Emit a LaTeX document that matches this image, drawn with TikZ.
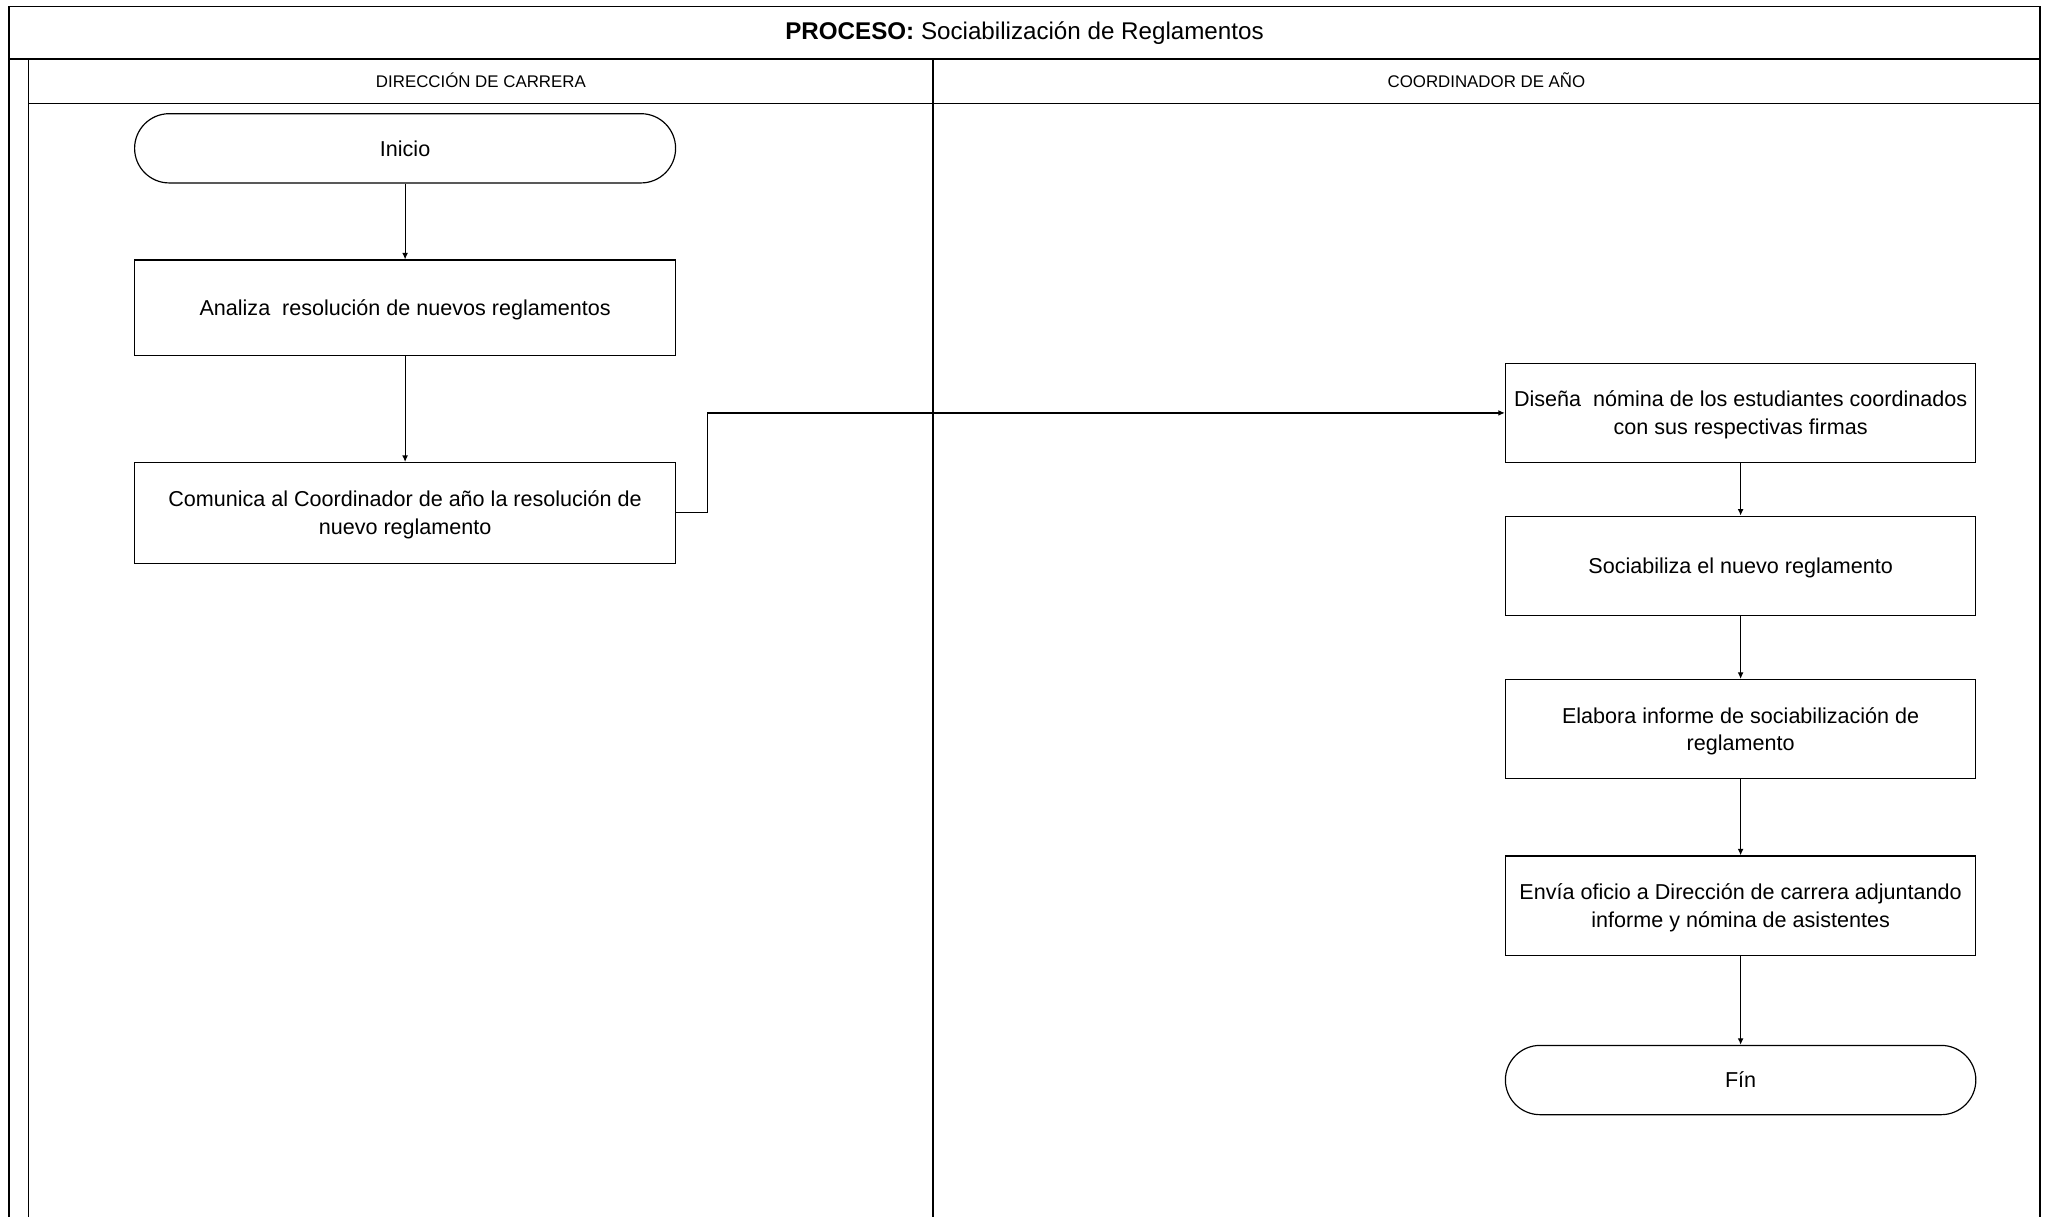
\documentclass[tikz,border=0pt]{standalone}
\usepackage{fontspec}
\setmainfont{Liberation Sans}
\usetikzlibrary{arrows.meta}
\begin{document}
\begin{tikzpicture}[x=1pt,y=-1pt,
  frame/.style={line width=1.1pt,black},
  lbl/.style={font=\fontsize{16.5}{21}\selectfont},
  lanehead/.style={font=\fontsize{12.9}{15}\selectfont},
  oneline/.style={text height=11.8pt,text depth=0pt},
  twolines/.style={text height=32.8pt,text depth=0pt},
  stepbox/.style={draw,line width=0.9pt,rectangle,align=center,lbl,inner sep=0pt},
  terminal/.style={draw,line width=0.9pt,rectangle,rounded corners=26.5pt,align=center,lbl,inner sep=0pt,minimum height=53pt,oneline},
  flow/.style={line width=0.9pt,-{Latex[length=5pt,width=4.5pt]}}]
\useasboundingbox (0,0) rectangle (1568,931);

% pool frame, title row and lanes
\draw[frame] (7,931) -- (7,5) -- (1561,5) -- (1561,931);
\draw[frame] (7,45) -- (1561,45);
\draw[frame] (22,45) -- (22,931);
\draw[frame] (22,79) -- (1561,79);
\draw[frame] (714,45) -- (714,931);

\node[font=\fontsize{18.5}{22}\selectfont] (title) at (784,25) {\textbf{PROCESO:} Sociabilización de Reglamentos};
\node[lanehead] (lane1) at (368,61.5) {DIRECCIÓN DE CARRERA};
\node[lanehead] (lane2) at (1137.5,61.5) {COORDINADOR DE AÑO};

% Dirección de carrera
\node[terminal,minimum width=414pt] (inicio) at (310,113.5) {Inicio};
\node[stepbox,oneline,minimum width=414pt,minimum height=73pt] (analiza) at (310,235.5) {Analiza\ \ resolución de nuevos reglamentos};
\node[stepbox,twolines,minimum width=414pt,minimum height=77pt] (comunica) at (310,392.5) {Comunica al Coordinador de año la resolución de\\nuevo reglamento};

% Coordinador de año
\node[stepbox,twolines,minimum width=360pt,minimum height=76pt] (disena) at (1332,316) {Diseña\ \ nómina de los estudiantes coordinados\\con sus respectivas firmas};
\node[stepbox,oneline,minimum width=360pt,minimum height=76pt] (socia) at (1332,433) {Sociabiliza el nuevo reglamento};
\node[stepbox,twolines,minimum width=360pt,minimum height=76pt] (elabora) at (1332,558) {Elabora informe de sociabilización de\\reglamento};
\node[stepbox,twolines,minimum width=360pt,minimum height=76pt] (envia) at (1332,693) {Envía oficio a Dirección de carrera adjuntando\\informe y nómina de asistentes};
\node[terminal,minimum width=360pt] (fin) at (1332,826.5) {Fín};

% connectors
\draw[flow] (inicio) -- (analiza);
\draw[flow] (analiza) -- (comunica);
\draw[flow] (comunica.east) -- ++(24,0) |- (disena.west);
\draw[flow] (disena) -- (socia);
\draw[flow] (socia) -- (elabora);
\draw[flow] (elabora) -- (envia);
\draw[flow] (envia) -- (fin);
\end{tikzpicture}
\end{document}
